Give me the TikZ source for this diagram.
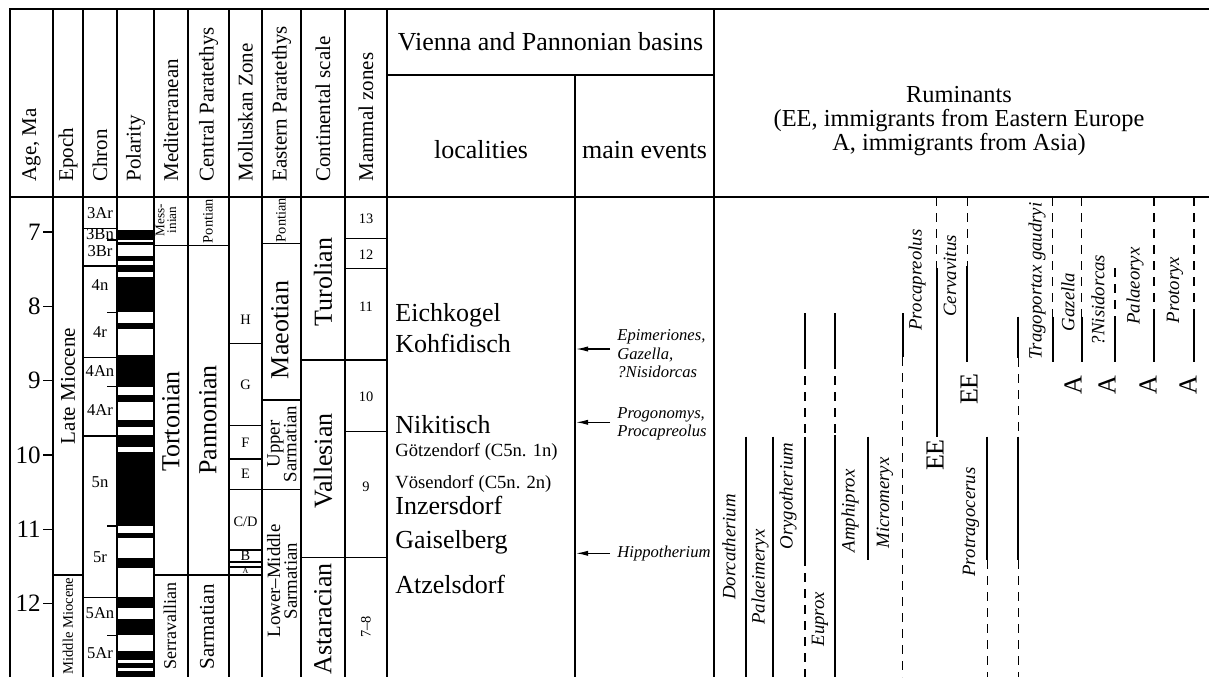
\documentclass[tikz,border=0pt]{standalone}
\usepackage{fontspec}
\setmainfont{Liberation Serif}
\usetikzlibrary{arrows.meta}
\def\fbig{\fontsize{13}{15}\selectfont}
\def\fhead{\fontsize{10.5}{12}\selectfont}
\def\fmid{\fontsize{9.4}{8.4}\selectfont}
\def\fsmall{\fontsize{8.3}{9.2}\selectfont}
\def\ftiny{\fontsize{7.2}{8}\selectfont}

\begin{document}
\begin{tikzpicture}[x=0.5pt, y=-0.5pt,
	frame/.style={line width=0.7pt},
	rng/.style={line width=1.1pt},
	gap/.style={line width=0.6pt, dash pattern=on 4.6pt off 3.4pt},
	hdr/.style={rotate=90, anchor=west, inner sep=0pt, font=\fhead},
	vtxt/.style={rotate=90, inner sep=0pt, align=center},
	taxon/.style={rotate=90, inner sep=0pt, font=\fmid\itshape},
	loc/.style={anchor=base west, inner sep=0pt, font=\fbig},
	ev/.style={anchor=west, inner xsep=3.5pt, inner ysep=0pt, align=left, font=\fsmall\itshape},
	evarr/.style={line width=0.6pt, -{Latex[length=6pt, width=2.6pt]}}]
		%%%%% START %%%%%
		\useasboundingbox (0, 0) rectangle (1209, 677);
		
		% polarity
		\fill (117, 229.5) rectangle (154, 239.5);
		\fill (117, 242) rectangle (154, 244.5);
		\fill (117, 255.5) rectangle (154, 260.5);
		\fill (117, 265) rectangle (154, 272);
		\fill (117, 277) rectangle (154, 312);
		\fill (117, 323) rectangle (154, 328.5);
		\fill (117, 355) rectangle (154, 387.3);
		\fill (117, 395) rectangle (154, 401.7);
		\fill (117, 420) rectangle (154, 426.7);
		\fill (117, 435) rectangle (154, 446.7);
		\fill (117, 451.7) rectangle (154, 526);
		\fill (117, 532.7) rectangle (154, 538.3);
		\fill (117, 557.7) rectangle (154, 567.7);
		\fill (117, 596.7) rectangle (154, 608.3);
		\fill (117, 619.3) rectangle (154, 635);
		\fill (117, 650.7) rectangle (154, 660);
		\fill (117, 663.3) rectangle (154, 668.3);
		\fill (117, 670.7) rectangle (154, 677);
		
		% frame
		\draw[frame] (10, 677) -- (10, 9) -- (1209, 9);
		\draw[frame] (10, 197) -- (1209, 197);
		\draw[frame] (387, 75) -- (714, 75);
		\foreach \cx in {53, 83, 117, 154, 188, 229, 262, 301, 345, 387, 714}
			\draw[frame] (\cx, 9) -- (\cx, 677);
		\draw[frame] (575, 75) -- (575, 677);
		
		% headers
		\node[hdr] (hAge) at (31.5, 182) {Age, Ma};
		\node[hdr] (hEpoch) at (68, 182) {Epoch};
		\node[hdr] (hChron) at (100, 182) {Chron};
		\node[hdr] (hPol) at (135.5, 182) {Polarity};
		\node[hdr] (hMed) at (171, 182) {Mediterranean};
		\node[hdr] (hCP) at (208.5, 182) {Central Paratethys};
		\node[hdr] (hMoll) at (245.5, 182) {Molluskan Zone};
		\node[hdr] (hEP) at (281.5, 182) {Eastern Paratethys};
		\node[hdr] (hCont) at (323, 182) {Continental scale};
		\node[hdr] (hMam) at (366, 182) {Mammal zones};
		\node[font=\fbig] (hVienna) at (550.5, 42) {Vienna and Pannonian basins};
		\node[font=\fbig] (hLoc) at (481, 150) {localities};
		\node[font=\fbig] (hEv) at (644.5, 150) {main events};
		\node[align=center, font=\fontsize{12.2}{12}\selectfont] (hRum) at (959, 121)
			{Ruminants\\(EE, immigrants from Eastern Europe\\A, immigrants from Asia)};
		
		% age scale
		\foreach \a/\ay in {7/232, 8/306.3, 9/380.6, 10/454.9, 11/529.2, 12/603.5} {
			\draw[frame] (43, \ay) -- (53, \ay);
			\node[anchor=east, inner sep=0pt, font=\fontsize{12.5}{14}\selectfont] (age\a) at (41, \ay) {\a};
		}
		
		% epoch
		\draw[frame] (53, 575) -- (83, 575);
		\node[vtxt, font=\fhead] (epLate) at (68, 386) {Late Miocene};
		\node[vtxt, font=\fontsize{7.3}{8}\selectfont] (epMid) at (68, 626) {Middle Miocene};
		
		% chron
		\foreach \cy in {228.3, 266, 357.3, 436, 597.3}
			\draw[frame] (83, \cy) -- (117, \cy);
		\foreach \cy in {240, 312.7, 386.7, 526, 635.7}
			\draw[frame] (107, \cy) -- (117, \cy);
		\foreach \c/\cy in {3Ar/212.7, 3Bn/234.3, 3Br/250.7, 4n/285, 4r/331.7, 4An/371, 4Ar/410, 5n/481.7, 5r/556.7, 5An/613.3, 5Ar/652.7}
			\node[inner sep=0pt, font=\fsmall] (ch\c) at (100, \cy) {\c};
		
		% Mediterranean and Central Paratethys
		\draw[frame] (154, 245.7) -- (229, 245.7);
		\draw[frame] (154, 575) -- (229, 575);
		\node[vtxt, font=\fontsize{6.6}{5.8}\selectfont] (mMess) at (166, 220) {Mess-\\inian};
		\node[vtxt, font=\fbig] (mTort) at (171, 421.5) {Tortonian};
		\node[vtxt, font=\fontsize{9}{10}\selectfont] (mSerr) at (170, 626) {Serravallian};
		\node[vtxt, font=\ftiny] (cPont) at (208, 221) {Pontian};
		\node[vtxt, font=\fbig] (cPann) at (208, 420) {Pannonian};
		\node[vtxt, font=\fontsize{10.5}{12}\selectfont] (cSarm) at (207, 627) {Sarmatian};
		
		% molluskan zones
		\foreach \cy in {343.3, 425.7, 459, 489.3, 550, 562, 567, 575}
			\draw[frame] (229, \cy) -- (262, \cy);
		\foreach \z/\cy in {H/320, G/385, F/443, E/474, C\slash D/521.7, B/556}
			\node[inner sep=0pt, font=\ftiny] at (245.5, \cy) {\z};
		\node[inner sep=0pt, font=\fontsize{4}{4}\selectfont] (zA) at (245.5, 571) {A};
		
		% Eastern Paratethys
		\foreach \cy in {243.3, 400, 489.3}
			\draw[frame] (262, \cy) -- (301, \cy);
		\node[vtxt, font=\ftiny] (ePont) at (281, 220) {Pontian};
		\node[vtxt, font=\fbig] (eMaeo) at (280, 330) {Maeotian};
		\node[vtxt, font=\fmid] (eUpSarm) at (282, 444) {Upper\\Sarmatian};
		\node[vtxt, font=\fmid] (eLoSarm) at (282, 581) {Lower--Middle\\Sarmatian};
		
		% continental scale
		\draw[frame] (301, 360) -- (345, 360);
		\draw[frame] (301, 557.7) -- (345, 557.7);
		\node[vtxt, font=\fbig] (sTuro) at (323, 282) {Turolian};
		\node[vtxt, font=\fbig] (sVall) at (323, 461) {Vallesian};
		\node[vtxt, font=\fbig] (sAsta) at (323, 619) {Astaracian};
		
		% mammal zones
		\foreach \cy in {238.3, 268.3, 360, 431.7, 557.7}
			\draw[frame] (345, \cy) -- (387, \cy);
		\foreach \m/\cy in {13/219, 12/255, 11/307, 10/397, 9/487}
			\node[inner sep=0pt, font=\ftiny] (mz\m) at (366, \cy) {\m};
		\node[vtxt, font=\ftiny] (mz78) at (366, 627) {7--8};
		
		% localities
		\node[loc] (lEich) at (395, 321.7) {Eichkogel};
		\node[loc] (lKohf) at (395, 352.3) {Kohfidisch};
		\node[loc] (lNiki) at (395, 433.3) {Nikitisch};
		\node[loc, font=\fontsize{9.3}{11}\selectfont] (lGoetz) at (395, 456.7) {Götzendorf (C5n. 1n)};
		\node[loc, font=\fontsize{9.3}{11}\selectfont] (lVoes) at (395, 488.3) {Vösendorf (C5n. 2n)};
		\node[loc] (lInze) at (395, 514) {Inzersdorf};
		\node[loc] (lGais) at (395, 548.3) {Gaiselberg};
		\node[loc] (lAtze) at (395, 593.3) {Atzelsdorf};
		
		% main events
		\coordinate (tEpim) at (576, 349);
		\coordinate (tProg) at (576, 422.3);
		\coordinate (tHipp) at (576, 553.3);
		\node[ev] (vEpim) at (610, 354) {Epimeriones,\\Gazella,\\?Nisidorcas};
		\node[ev] (vProg) at (610, 424) {Progonomys,\\Procapreolus};
		\node[ev] (vHipp) at (610, 553.3) {Hippotherium};
		\draw[evarr] (vEpim.west |- tEpim) -- (tEpim);
		\draw[evarr] (vProg.west |- tProg) -- (tProg);
		\draw[evarr] (vHipp.west) -- (tHipp);
		
		% ruminant ranges
		\draw[rng] (746, 436.7) -- (746, 677);
		\draw[rng] (773.3, 436.7) -- (773.3, 677);
		\draw[rng] (805, 313) -- (805, 360);
		\draw[gap] (805, 360) -- (805, 437);
		\draw[rng] (805, 437) -- (805, 557);
		\draw[gap] (805, 557) -- (805, 677);
		\draw[rng] (835, 313) -- (835, 360);
		\draw[gap] (835, 360) -- (835, 435);
		\draw[rng] (835, 435) -- (835, 677);
		\draw[rng] (868.3, 436.7) -- (868.3, 560);
		\draw[rng] (902.7, 313) -- (902.7, 357);
		\draw[gap] (902.7, 357) -- (902.7, 677);
		\draw[gap] (936.7, 197) -- (936.7, 268);
		\draw[rng] (936.7, 268) -- (936.7, 437);
		\draw[gap] (967.3, 197) -- (967.3, 266);
		\draw[rng] (967.3, 266) -- (967.3, 362);
		\draw[rng] (987.3, 436.7) -- (987.3, 560);
		\draw[gap] (987.3, 560) -- (987.3, 677);
		\draw[rng] (1018.3, 316.7) -- (1018.3, 358);
		\draw[gap] (1018.3, 358) -- (1018.3, 436.7);
		\draw[rng] (1018.3, 436.7) -- (1018.3, 560);
		\draw[gap] (1018.3, 560) -- (1018.3, 677);
		\draw[gap] (1115, 268) -- (1115, 316.7);
		\draw[rng] (1115, 316.7) -- (1115, 361.7);
		\foreach \rx in {1052.7, 1081.7, 1154, 1194} {
			\draw[gap] (\rx, 197) -- (\rx, 316.7);
			\draw[rng] (\rx, 316.7) -- (\rx, 361.7);
		}
		
		% ruminant names
		\node[taxon] (rDorc) at (729, 547) {Dorcatherium};
		\node[taxon] (rPala) at (760, 577) {Palaeimeryx};
		\node[taxon] (rOryg) at (788, 496) {Orygotherium};
		\node[taxon] (rEupr) at (820, 619) {Euprox};
		\node[taxon] (rAmph) at (850, 511) {Amphiprox};
		\node[taxon] (rMicr) at (885, 503) {Micromeryx};
		\node[taxon] (rProc) at (917, 280) {Procapreolus};
		\node[taxon] (rCerv) at (950, 276) {Cervavitus};
		\node[taxon] (rProt) at (971, 522) {Protragocerus};
		\node[taxon] (rTrag) at (1037, 281) {Tragoportax gaudryi};
		\node[taxon] (rGaze) at (1068, 302) {Gazella};
		\node[taxon] (rNisi) at (1098, 300) {?Nisidorcas};
		\node[taxon] (rPalo) at (1135, 286) {Palaeoryx};
		\node[taxon] (rPror) at (1175, 290) {Protoryx};
		
		\node[vtxt, font=\fbig] (ee1) at (935, 455) {EE};
		\node[vtxt, font=\fbig] (ee2) at (969, 389) {EE};
		\foreach \ax in {1073, 1107, 1148, 1188}
			\node[vtxt, font=\fbig] at (\ax, 385) {A};
		
		%%%%% END %%%%%
	\end{tikzpicture}
\end{document}
